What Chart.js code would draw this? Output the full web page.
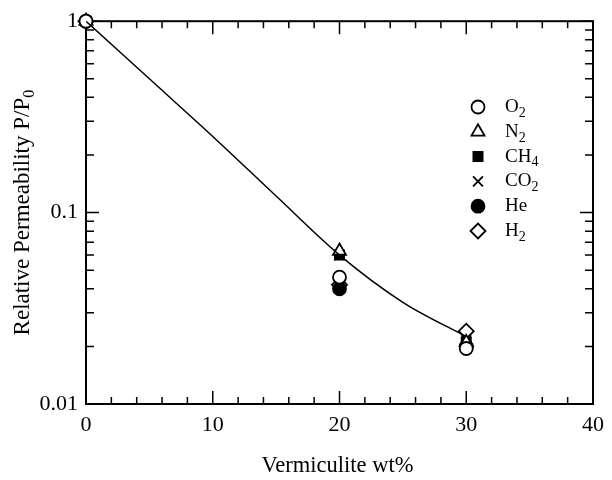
<!DOCTYPE html>
<html>
<head>
<meta charset="utf-8">
<script src="https://cdn.jsdelivr.net/npm/chart.js@4/dist/chart.umd.min.js"></script>
<style>
  html, body { margin: 0; padding: 0; background: #fff; }
  #wrap { width: 612px; height: 480px; }
</style>
</head>
<body>
<div id="wrap"><canvas id="permChart"></canvas></div>
<script>
// measured points, x = vermiculite wt%
const loadings = [0, 20, 30];
const o2  = [1, 0.046, 0.0195];
const n2  = [1, 0.063, 0.021];
const ch4 = [1, 0.060, 0.021];
const co2 = [1, 0.060, 0.0215];
const he  = [1, 0.040, 0.020];
const h2  = [1, 0.042, 0.024];

// fitted curve
const fitX = [0, 5, 10, 15, 20, 25, 30];
const fitY = [1, 0.50, 0.25, 0.122, 0.060, 0.034, 0.0225];

const xTicks = [0, 10, 20, 30, 40];
const yTicks = [0.01, 0.1, 1];

const gasNames = [['O', '2'], ['N', '2'], ['CH', '4'], ['CO', '2'], ['He', ''], ['H', '2']];

const SERIF = '"Liberation Serif", "Times New Roman", serif';

function pts(ys) {
    return loadings.map((x, i) => ({ x: x, y: ys[i] }));
}

function marker(style, fill, r) {
    return {
        type: 'scatter',
        pointStyle: style,
        pointRadius: r,
        borderColor: '#000',
        backgroundColor: fill ? '#000' : '#fff',
        pointBorderWidth: 1.8,
        showLine: false,
        clip: false
    };
}

const markerDefs = [
    marker('circle', false, 6.5),
    marker('triangle', false, 7.5),
    marker('rect', true, 6.5),
    marker('crossRot', false, 7),
    marker('circle', true, 6.5),
    marker('rectRot', false, 7.5)
];
const seriesValues = [o2, n2, ch4, co2, he, h2];

const datasets = [{
    type: 'line',
    data: fitX.map((x, i) => ({ x: x, y: fitY[i] })),
    borderColor: '#000',
    borderWidth: 1.5,
    pointRadius: 0,
    cubicInterpolationMode: 'monotone',
    fill: false
}];
seriesValues.forEach((vals, i) => {
    datasets.push(Object.assign({ data: pts(vals) }, markerDefs[i]));
});

function subText(ctx, base, sub, x, y, size) {
    ctx.textAlign = 'left';
    ctx.textBaseline = 'middle';
    ctx.font = size + 'px ' + SERIF;
    const w1 = ctx.measureText(base).width;
    ctx.fillText(base, x, y);
    ctx.font = Math.round(size * 0.72) + 'px ' + SERIF;
    ctx.fillText(sub, x + w1, y + size * 0.32);
}

// box frame with inward ticks on all four sides, drawn under the markers
const framePlugin = {
    id: 'frame',
    beforeDatasetsDraw(chart) {
        const ctx = chart.ctx;
        const a = chart.chartArea;
        const xs = chart.scales.x, ys = chart.scales.y;
        ctx.save();
        ctx.strokeStyle = '#000';
        ctx.lineWidth = 2;
        ctx.strokeRect(a.left, a.top, a.right - a.left, a.bottom - a.top);

        ctx.lineWidth = 1.5;
        ctx.beginPath();
        for (let v = 0; v <= 40; v += 2) {
            const px = xs.getPixelForValue(v);
            const len = v % 10 === 0 ? 13 : 7;
            ctx.moveTo(px, a.bottom); ctx.lineTo(px, a.bottom - len);
            ctx.moveTo(px, a.top); ctx.lineTo(px, a.top + len);
        }
        [0.01, 0.1].forEach(dec => {
            for (let m = 1; m <= 10; m++) {
                const py = ys.getPixelForValue(dec * m);
                const len = (m === 1 || m === 10) ? 13 : 8;
                ctx.moveTo(a.left, py); ctx.lineTo(a.left + len, py);
                ctx.moveTo(a.right, py); ctx.lineTo(a.right - len, py);
            }
        });
        ctx.stroke();
        ctx.restore();
    },
    afterDraw(chart) {
        const ctx = chart.ctx;
        const a = chart.chartArea;
        ctx.save();
        ctx.fillStyle = '#000';

        // axis titles
        ctx.textAlign = 'center';
        ctx.textBaseline = 'middle';
        ctx.font = '22.5px ' + SERIF;
        ctx.fillText('Vermiculite wt%', (a.left + a.right) / 2 - 2, 466);

        ctx.save();
        ctx.translate(23, (a.top + a.bottom) / 2);
        ctx.rotate(-Math.PI / 2);
        ctx.font = '23px ' + SERIF;
        const t = 'Relative Permeability P/P';
        const w1 = ctx.measureText(t).width;
        ctx.font = '16px ' + SERIF;
        const w2 = ctx.measureText('0').width;
        const sx = -(w1 + w2) / 2;
        ctx.textAlign = 'left';
        ctx.font = '23px ' + SERIF;
        ctx.fillText(t, sx, 0);
        ctx.font = '16px ' + SERIF;
        ctx.fillText('0', sx + w1, 7);
        ctx.restore();

        // legend
        const lx = 478, ly = 107, step = 24.8;
        gasNames.forEach((g, i) => {
            const d = markerDefs[i];
            const y = ly + i * step;
            ctx.fillStyle = d.backgroundColor;
            ctx.strokeStyle = '#000';
            ctx.lineWidth = d.pointBorderWidth;
            Chart.helpers.drawPoint(ctx, {
                pointStyle: d.pointStyle,
                radius: d.pointRadius,
                rotation: 0,
                borderWidth: d.pointBorderWidth
            }, lx, y);
            ctx.fillStyle = '#000';
            subText(ctx, g[0], g[1], 505, y, 19);
        });
        ctx.restore();
    }
};

new Chart(document.getElementById('permChart'), {
    data: { datasets: datasets },
    options: {
        responsive: true,
        maintainAspectRatio: false,
        animation: false,
        events: [],
        layout: { padding: { top: 18, right: 12, left: 0, bottom: 0 } },
        plugins: {
            legend: { display: false },
            tooltip: { enabled: false }
        },
        scales: {
            x: {
                type: 'linear',
                min: 0,
                max: 40,
                afterBuildTicks: s => { s.ticks = xTicks.map(v => ({ value: v })); },
                afterFit: s => { s.height = 76; },
                grid: { display: false, drawTicks: false },
                border: { display: false },
                ticks: {
                    color: '#000',
                    padding: 8,
                    maxRotation: 0,
                    font: { family: SERIF, size: 22 }
                }
            },
            y: {
                type: 'logarithmic',
                min: 0.01,
                max: 1,
                afterBuildTicks: s => { s.ticks = yTicks.map(v => ({ value: v })); },
                afterFit: s => { s.width = 86; },
                grid: { display: false, drawTicks: false },
                border: { display: false },
                ticks: {
                    color: '#000',
                    padding: 8,
                    font: { family: SERIF, size: 22 },
                    callback: v => String(v)
                }
            }
        }
    },
    plugins: [framePlugin]
});
</script>
</body>
</html>
